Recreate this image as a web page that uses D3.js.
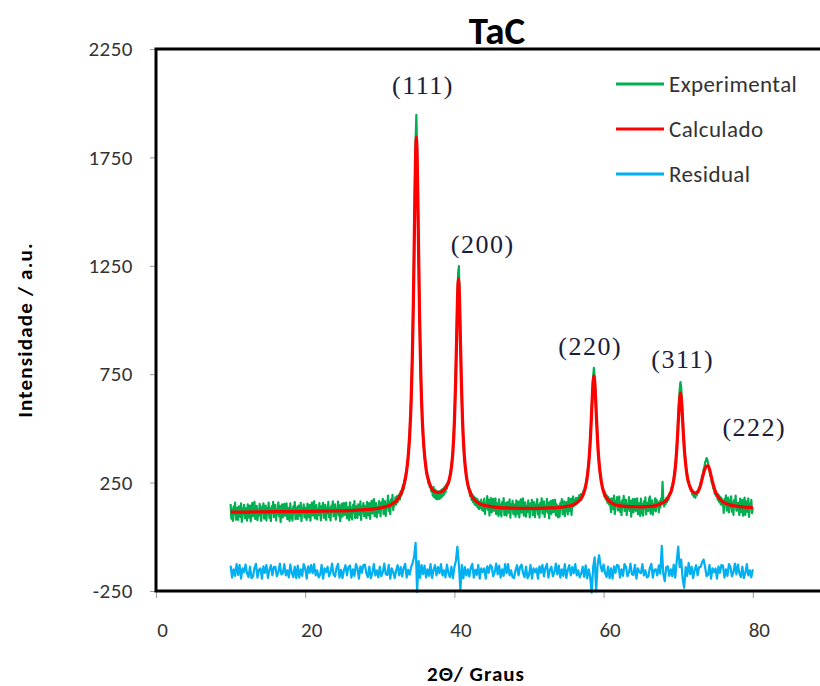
<!DOCTYPE html>
<html>
<head>
<meta charset="utf-8">
<script src="https://cdn.jsdelivr.net/npm/d3@7"></script>
<style>
  body { margin: 0; background: #fff; }
</style>
</head>
<body>
<svg id="chart" width="820" height="686"></svg>
<script>
// experimental pattern, one row per degree (10.0 .. 80.0, step 0.1)
var expStart = 10, expStep = 0.1;
var experimental = [
  152,84,126,73,139,106,158,79,119,134,
  78,141,117,92,154,69,129,108,147,86,
  132,100,75,150,116,88,144,71,125,155,
  95,150,161,82,111,143,77,124,98,152,
  123,73,137,116,154,84,121,144,75,131,
  107,158,87,129,72,140,113,161,91,120,
  147,76,123,104,159,95,142,69,130,150,
  89,126,152,97,119,154,81,133,110,73,
  154,86,128,75,141,108,160,81,121,136,
  81,144,120,95,157,72,132,111,150,89,
  135,103,78,153,119,91,147,74,128,158,
  98,153,164,85,114,146,80,127,101,155,
  126,76,140,119,157,87,124,147,78,134,
  110,161,90,132,75,143,116,164,94,123,
  150,79,126,107,162,98,145,72,133,153,
  93,130,156,101,123,158,85,137,114,77,
  159,91,133,80,146,113,165,86,126,141,
  87,150,126,101,163,78,138,117,156,95,
  143,111,86,161,127,99,155,82,136,166,
  108,163,174,95,124,156,90,137,111,165,
  144,94,158,137,175,105,142,165,96,152,
  139,190,119,161,104,172,145,193,123,152,
  145,182,150,188,160,180,196,172,210,192,
  200,238,218,262,258,290,306,340,368,415,
  470,540,635,760,905,1095,1330,1600,1830,1946,
  1790,1555,1300,1085,905,745,630,535,470,415,
  380,338,318,288,282,248,258,228,238,210,
  225,190,230,182,218,176,212,172,208,180,
  175,212,180,218,186,222,194,232,205,240,
  222,250,242,270,276,304,322,358,400,462,
  535,640,775,935,1090,1215,1249,1090,925,770,
  625,520,445,383,338,302,279,250,238,220,
  222,188,210,170,196,160,186,150,180,145,
  176,136,168,128,160,132,172,124,156,118,
  176,105,152,133,188,124,171,98,159,179,
  112,149,175,120,142,177,104,156,133,96,
  173,105,147,94,160,127,179,100,140,155,
  97,160,136,111,173,88,148,127,166,105,
  150,118,93,168,134,106,162,89,143,173,
  111,166,177,98,127,159,93,140,114,168,
  139,89,153,132,170,100,137,160,91,147,
  123,174,103,145,88,156,129,177,107,136,
  163,92,139,120,175,111,158,85,146,166,
  106,143,169,114,136,171,98,150,127,90,
  143,93,157,136,174,104,141,164,95,151,
  160,128,103,180,144,118,175,101,156,186,
  140,170,147,180,154,178,161,190,169,196,
  170,198,185,212,210,232,236,266,278,312,
  335,385,440,505,585,665,740,779,738,672,
  590,515,440,385,338,302,278,255,237,218,
  215,186,205,172,192,158,184,150,176,142,
  114,177,153,128,190,105,165,144,183,122,
  135,186,115,157,100,168,141,189,119,148,
  171,100,147,128,183,119,166,93,154,174,
  112,149,175,120,142,177,104,156,133,96,
  176,108,150,97,163,130,182,103,143,158,
  120,175,186,107,136,168,102,149,123,177,
  117,172,140,158,112,163,136,176,170,253,
  172,140,168,150,178,160,186,170,198,196,
  200,226,228,252,262,296,318,360,405,470,
  540,610,680,714,690,620,555,480,425,378,
  345,300,288,258,254,234,232,212,215,195,
  205,185,202,180,200,192,212,205,228,226,
  250,256,282,284,310,318,342,350,363,356,
  342,318,308,282,276,250,245,222,220,198,
  210,188,200,170,195,160,185,150,178,146,
  160,110,174,153,191,121,158,181,112,168,
  136,187,116,158,101,169,142,190,120,149,
  158,126,101,176,142,114,170,97,151,181,
  101,164,140,115,177,92,152,131,170,109,
  135
];

// residual, one row per degree (10.0 .. 80.0, step 0.2)
var resStart = 10, resStep = 0.2;
var residual = [
  -133,-188,-150,-180,-126,
  -176,-130,-193,-146,-163,
  -128,-168,-186,-138,-191,
  -183,-143,-125,-188,-152,
  -146,-193,-136,-166,-130,
  -190,-153,-131,-178,-140,
  -138,-182,-164,-124,-173,
  -168,-126,-178,-155,-187,
  -128,-168,-186,-138,-191,
  -133,-188,-150,-180,-126,
  -146,-193,-136,-166,-130,
  -168,-126,-178,-155,-187,
  -176,-130,-193,-146,-163,
  -138,-182,-164,-124,-173,
  -183,-143,-125,-188,-152,
  -190,-153,-131,-178,-140,
  -133,-188,-150,-180,-126,
  -146,-193,-136,-166,-130,
  -128,-168,-186,-138,-191,
  -168,-126,-178,-155,-187,
  -138,-182,-164,-124,-173,
  -176,-130,-193,-146,-163,
  -190,-153,-131,-178,-140,
  -183,-143,-125,-188,-152,
  -175,-140,-122,-90,-28,
  -255,-112,-190,-130,-172,
  -133,-188,-150,-180,-126,
  -190,-153,-131,-178,-140,
  -168,-126,-178,-155,-187,
  -128,-168,-186,-138,-191,
  -140,-110,-45,-128,-248,
  -130,-192,-140,-178,-150,
  -183,-143,-125,-188,-152,
  -176,-130,-193,-146,-163,
  -146,-193,-136,-166,-130,
  -138,-182,-164,-124,-173,
  -133,-188,-150,-180,-126,
  -168,-126,-178,-155,-187,
  -190,-153,-131,-178,-140,
  -128,-168,-186,-138,-191,
  -176,-130,-193,-146,-163,
  -146,-193,-136,-166,-130,
  -183,-143,-125,-188,-152,
  -138,-182,-164,-124,-173,
  -133,-188,-150,-180,-126,
  -190,-153,-131,-178,-140,
  -168,-126,-178,-155,-187,
  -170,-138,-185,-132,-192,
  -150,-185,-258,-140,-95,
  -252,-125,-85,-135,-160,
  -128,-168,-186,-138,-191,
  -146,-193,-136,-166,-130,
  -133,-188,-150,-180,-126,
  -138,-182,-164,-124,-173,
  -176,-130,-193,-146,-163,
  -168,-126,-178,-155,-187,
  -183,-143,-125,-188,-152,
  -150,-178,-132,-170,-42,
  -172,-205,-140,-136,-180,
  -150,-182,-128,-188,-112,
  -45,-140,-105,-195,-235,
  -140,-180,-120,-172,-138,
  -190,-153,-131,-178,-140,
  -140,-118,-105,-138,-182,
  -176,-130,-193,-146,-163,
  -146,-193,-136,-166,-130,
  -133,-188,-150,-180,-126,
  -138,-182,-164,-124,-173,
  -128,-168,-186,-138,-191,
  -168,-126,-178,-155,-187,
  -150
];

// calculated profile
var calcTheta = [10,12,14,16,18,20,22,24,26,27,28,29,30,30.5,31,31.5,32,32.5,33,33.3,33.6,33.8,
  34,34.2,34.35,34.5,34.6,34.7,34.8,34.9,35,35.1,35.2,35.35,35.5,35.7,35.9,36.2,36.6,37,37.4,37.8,
  38.2,38.6,39,39.3,39.6,39.8,40,40.15,40.3,40.4,40.48,40.55,40.62,40.7,40.8,40.95,41.1,41.3,41.5,
  41.8,42.2,42.7,43.3,44,45,46,47,48,50,52,53,54,55,55.5,56,56.5,57,57.3,57.6,57.85,58.05,58.2,
  58.35,58.5,58.6,58.7,58.8,58.9,59.05,59.2,59.35,59.55,59.8,60.1,60.4,60.9,61.4,62,63,64,65,66,
  66.5,67,67.5,68,68.4,68.8,69.1,69.4,69.6,69.8,69.95,70.1,70.2,70.3,70.4,70.5,70.65,70.8,71,71.2,
  71.5,71.8,72.1,72.4,72.7,73,73.3,73.6,73.8,74,74.2,74.4,74.7,75,75.4,75.9,76.5,77.2,78,79,80];
var calculado = [114,114,115,116,116,117,118,119,121,123,125,128,132,136,141,148,159,177,213,248,306,369,
  467,626,813,1084,1313,1559,1762,1844,1762,1560,1314,984,743,537,418,314,252,220,208,205,
  207,216,236,262,320,394,531,695,920,1074,1163,1191,1163,1074,920,695,528,389,309,
  241,197,170,154,145,139,135,133,132,131,132,133,135,140,143,149,159,178,198,234,287,357,435,
  539,656,717,742,719,658,541,437,360,290,234,198,178,160,150,144,140,139,138,140,
  141,144,150,158,170,190,215,262,315,400,490,590,640,663,645,595,500,415,335,280,
  238,215,204,202,212,238,280,315,326,327,312,282,240,207,182,164,152,145,140,137,135];

var xTicks = [0, 20, 40, 60, 80];
var yTicks = [-250, 250, 750, 1250, 1750, 2250];

var peakLabels = ["(111)", "(200)", "(220)", "(311)", "(222)"];
var peakLabelTheta = [35.8, 43.8, 58.2, 70.6, 80.2];
var peakLabelInt = [2042, 1309, 839, 779, 465];

var seriesNames = ["Experimental", "Calculado", "Residual"];
var seriesColors = ["#00b050", "#ff0000", "#00b0f0"];

var uiFont = "Carlito, Calibri, Lato, 'Open Sans', sans-serif";

var svg = d3.select("#chart");

var x = d3.scaleLinear().domain([0, 100]).range([156, 902]);
var y = d3.scaleLinear().domain([-250, 2250]).range([591, 49]);

var line = d3.line()
    .x(d => x(d[0]))
    .y(d => y(d[1]));

var expData = experimental.map((v, i) => [expStart + i * expStep, v]);
var resData = residual.map((v, i) => [resStart + i * resStep, v]);
var calcData = calcTheta.map((t, i) => [t, calculado[i]]);

svg.append("path")
    .datum(expData)
    .attr("d", line)
    .style("fill", "none")
    .style("stroke", seriesColors[0])
    .style("stroke-width", 2.2)
    .style("stroke-linejoin", "round");

svg.append("path")
    .datum(calcData)
    .attr("d", line.curve(d3.curveMonotoneX))
    .style("fill", "none")
    .style("stroke", seriesColors[1])
    .style("stroke-width", 3.2)
    .style("stroke-linejoin", "round");

line.curve(d3.curveLinear);

svg.append("path")
    .datum(resData)
    .attr("d", line)
    .style("fill", "none")
    .style("stroke", seriesColors[2])
    .style("stroke-width", 2.2)
    .style("stroke-linejoin", "round");

// axes
var xAxis = svg.append("g")
    .attr("transform", "translate(0," + y(-250) + ")")
    .call(d3.axisBottom(x).tickValues(xTicks).tickSize(7).tickFormat(d => String(d)));
xAxis.select(".domain").remove();
xAxis.selectAll("line").style("stroke", "#999");
xAxis.selectAll("text")
    .attr("y", 46)
    .attr("dy", 0)
    .attr("dx", 6)
    .style("font-family", uiFont)
    .style("font-size", "21px")
    .style("fill", "#333");

var yAxis = svg.append("g")
    .attr("transform", "translate(" + x(0) + ",0)")
    .call(d3.axisLeft(y).tickValues(yTicks).tickSize(6).tickFormat(d => String(d)));
yAxis.select(".domain").remove();
yAxis.selectAll("line").style("stroke", "#999");
yAxis.selectAll("text")
    .attr("x", -23)
    .style("font-family", uiFont)
    .style("font-size", "21px")
    .style("letter-spacing", "0.5px")
    .style("fill", "#333");

// frame
svg.append("path")
    .attr("d", "M820," + y(2250) + "H" + x(0) + "V" + y(-250) + "H820")
    .style("fill", "none")
    .style("stroke", "#000")
    .style("stroke-width", 3);

// peak labels
svg.selectAll(".peakLabel")
    .data(peakLabels)
    .enter()
    .append("text")
    .attr("class", "peakLabel")
    .attr("x", (d, i) => x(peakLabelTheta[i]))
    .attr("y", (d, i) => y(peakLabelInt[i]))
    .attr("text-anchor", "middle")
    .style("font-family", "'Liberation Serif', 'Times New Roman', serif")
    .style("font-size", "26px")
    .style("letter-spacing", "1.5px")
    .style("fill", "#1c1c3c")
    .text(d => d);

// legend
var legend = svg.selectAll(".legendItem")
    .data(seriesNames)
    .enter()
    .append("g")
    .attr("class", "legendItem")
    .attr("transform", (d, i) => "translate(616," + (84 + i * 45) + ")");

legend.append("line")
    .attr("x1", 0)
    .attr("x2", 48)
    .style("stroke", (d, i) => seriesColors[i])
    .style("stroke-width", 3);

legend.append("text")
    .attr("x", 53)
    .attr("y", 8)
    .style("font-family", uiFont)
    .style("font-size", "23px")
    .style("letter-spacing", "0.4px")
    .style("fill", "#333")
    .text(d => d);

// titles
svg.append("text")
    .attr("x", 497)
    .attr("y", 44)
    .attr("text-anchor", "middle")
    .style("font-family", uiFont)
    .style("font-weight", "bold")
    .style("font-size", "39px")
    .text("TaC");

svg.append("text")
    .attr("x", 476)
    .attr("y", 681)
    .attr("text-anchor", "middle")
    .style("font-family", uiFont)
    .style("font-weight", "bold")
    .style("font-size", "21px")
    .style("letter-spacing", "1px")
    .text("2Θ/ Graus");

svg.append("text")
    .attr("transform", "translate(32,330) rotate(-90)")
    .attr("text-anchor", "middle")
    .style("font-family", uiFont)
    .style("font-weight", "bold")
    .style("font-size", "21px")
    .style("letter-spacing", "1.2px")
    .text("Intensidade / a.u.");
</script>
</body>
</html>
